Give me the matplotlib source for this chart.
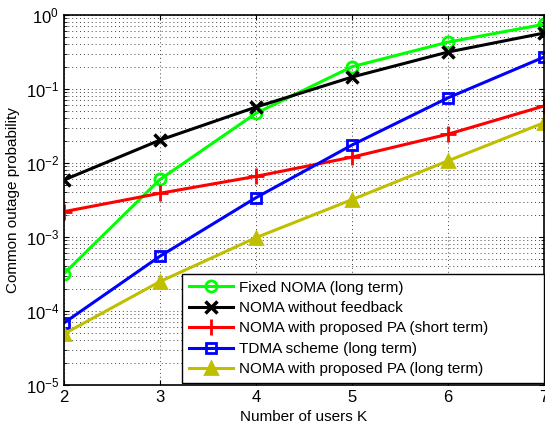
import numpy as np
import matplotlib
matplotlib.use('Agg')
import matplotlib.pyplot as plt
from matplotlib.ticker import LogLocator, NullFormatter

plt.rcParams['font.family'] = ['Liberation Sans', 'DejaVu Sans']

K = [2, 3, 4, 5, 6, 7]
fixed_noma = [3.2e-4, 6.0e-3, 0.047, 0.20, 0.43, 0.75]
noma_no_fb = [5.9e-3, 0.0204, 0.057, 0.145, 0.316, 0.57]
noma_pa_short = [2.2e-3, 3.9e-3, 6.6e-3, 0.012, 0.0245, 0.059]
tdma = [6.9e-5, 5.5e-4, 3.4e-3, 0.0175, 0.076, 0.27]
noma_pa_long = [4.9e-5, 2.5e-4, 9.8e-4, 3.2e-3, 0.0107, 0.035]

fig = plt.figure(figsize=(5.45, 4.24), dpi=100)
ax = fig.add_axes([64/545, 39/424, 480/545, 370/424])

lw = 2.2
ax.semilogy(K, fixed_noma, '-o', color='#00ff00', lw=lw, ms=8, mfc='none', mew=2, label='Fixed NOMA (long term)')
ax.semilogy(K, noma_no_fb, '-x', color='black', lw=lw, ms=8, mew=2.5, label='NOMA without feedback')
ax.semilogy(K, noma_pa_short, '-+', color='red', lw=lw, ms=11, mew=2, label='NOMA with proposed PA (short term)')
ax.semilogy(K, tdma, '-s', color='blue', lw=lw, ms=7, mfc='none', mew=2, label='TDMA scheme (long term)')
ax.semilogy(K, noma_pa_long, '-^', color='#bfbf00', lw=lw, ms=9, mew=2, label='NOMA with proposed PA (long term)')

ax.set_xlim(2, 7)
ax.set_ylim(1e-5, 1)
ax.set_xticks(K)
ax.yaxis.set_major_locator(LogLocator(base=10, numticks=10))
ax.yaxis.set_minor_locator(LogLocator(base=10, subs=np.arange(2, 10), numticks=20))
ax.yaxis.set_minor_formatter(NullFormatter())
ax.grid(True, which='major', linestyle=(0, (1, 3)), color='#444444', lw=0.7)
ax.grid(True, which='minor', axis='y', linestyle=(0, (1, 3)), color='#444444', lw=0.7)
ax.tick_params(which='both', direction='in', labelsize=12, top=True, right=True)
for s in ax.spines.values():
    s.set_linewidth(1.2)

ax.set_xlabel('Number of users K', fontsize=11)
ax.set_ylabel('Common outage probability', fontsize=11)

# matlab-style legend box: wide, entries flush left
leg = ax.legend(loc='lower left', bbox_to_anchor=(0.246, 0.005, 0.754, 0.3), mode='expand',
                fontsize=11, fancybox=False, framealpha=1,
                edgecolor='black', borderaxespad=0, handlelength=2.9,
                labelspacing=0.42, borderpad=0.45, handletextpad=0.4)
leg.get_frame().set_linewidth(1.0)

fig.savefig('out.png', dpi=100)
